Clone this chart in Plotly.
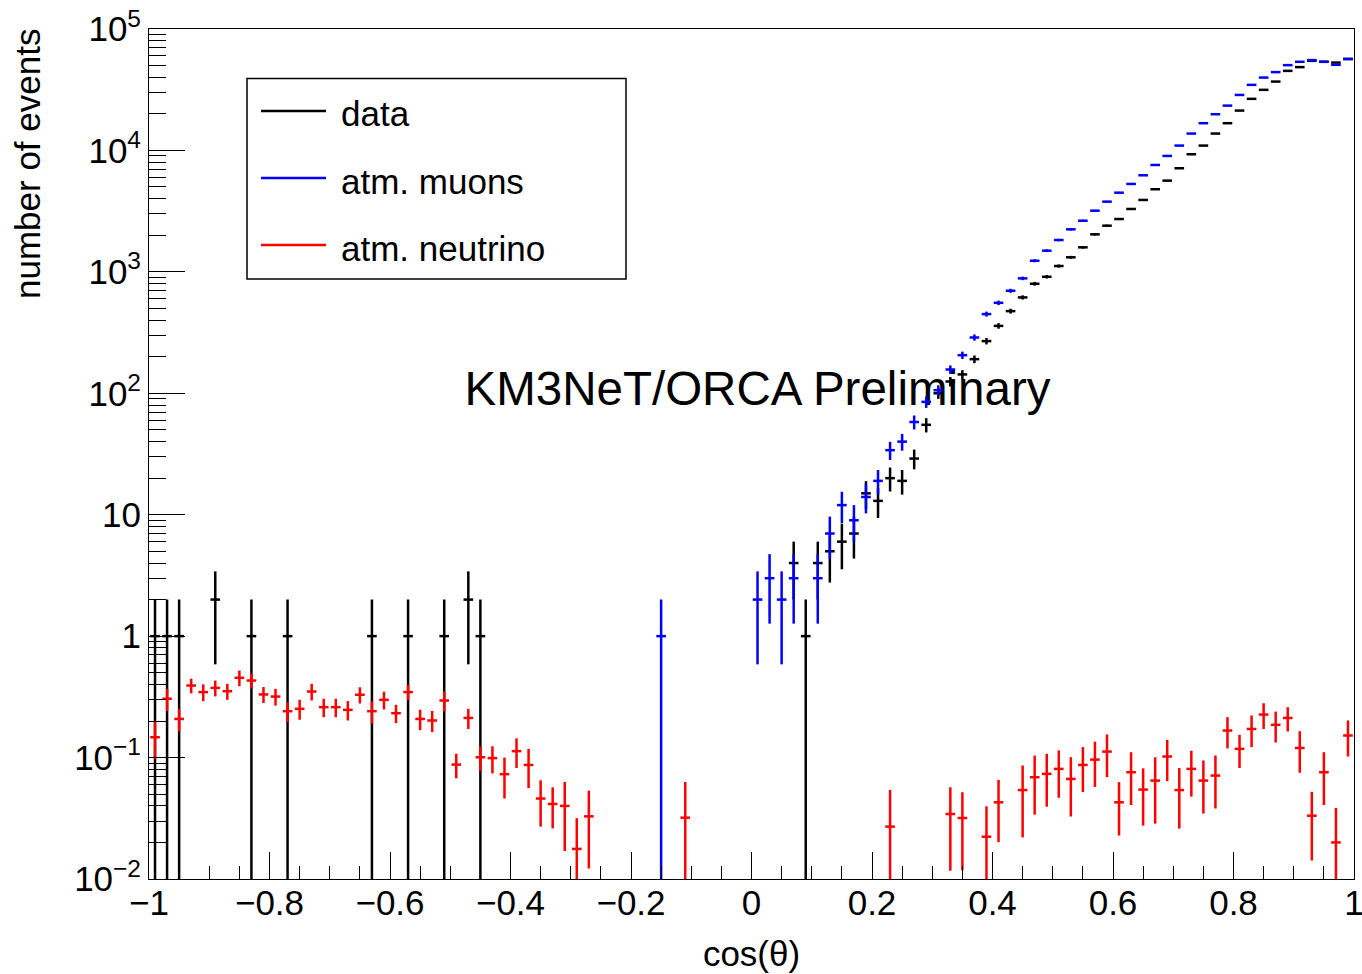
import numpy as np
import plotly.graph_objects as go

# 100 bins of cos(theta) between -1 and 1
bin_edges = np.linspace(-1.0, 1.0, 101)
bin_centers = 0.5 * (bin_edges[:-1] + bin_edges[1:])
half_bar = 0.4 * (bin_edges[1] - bin_edges[0])

# observed events per bin
data_counts = [
    1, 1, 1, 0, 0, 2, 0, 0, 1, 0,
    0, 1, 0, 0, 0, 0, 0, 0, 1, 0,
    0, 1, 0, 0, 1, 0, 2, 1, 0, 0,
    0, 0, 0, 0, 0, 0, 0, 0, 0, 0,
    0, 0, 0, 0, 0, 0, 0, 0, 0, 0,
    0, 0, 0, 4, 1, 4, 5, 6, 7, 15,
    13, 20, 19, 29, 55, 100, 125, 143, 191, 269,
    359, 475, 616, 798, 911, 1117, 1318, 1592, 2037, 2400,
    2723, 3295, 3910, 4790, 5640, 7130, 9300, 10960, 13770, 16760,
    21290, 26600, 31550, 36900, 45200, 48540, 54700, 53700, 52900, 56500,
]

# simulated atmospheric muons per bin
muon_counts = [
    0, 0, 0, 0, 0, 0, 0, 0, 0, 0,
    0, 0, 0, 0, 0, 0, 0, 0, 0, 0,
    0, 0, 0, 0, 0, 0, 0, 0, 0, 0,
    0, 0, 0, 0, 0, 0, 0, 0, 0, 0,
    0, 0, 1, 0, 0, 0, 0, 0, 0, 0,
    2, 3, 2, 3, 0, 3, 7, 12, 9, 14,
    19, 34, 40, 58, 85, 106, 157, 206, 288, 449,
    556, 699, 884, 1235, 1494, 1829, 2240, 2637, 3190, 3786,
    4488, 5296, 6240, 7590, 9010, 10960, 13770, 16760, 19870, 23390,
    28640, 34670, 39810, 44140, 50380, 53700, 55460, 53700, 50700, 56800,
]

# simulated atmospheric neutrinos per bin (weighted) and their errors
nu_counts = [
    0.147, 0.305, 0.208, 0.392, 0.346, 0.375, 0.352, 0.454, 0.431, 0.331,
    0.318, 0.241, 0.252, 0.350, 0.260, 0.260, 0.247, 0.329, 0.241, 0.299,
    0.232, 0.346, 0.208, 0.202, 0.295, 0.0875, 0.212, 0.1006, 0.099, 0.073,
    0.113, 0.087, 0.046, 0.0415, 0.040, 0.0177, 0.0328, 0, 0, 0,
    0, 0, 0, 0, 0.032, 0, 0, 0, 0, 0,
    0, 0, 0, 0, 0, 0, 0, 0, 0, 0,
    0, 0.027, 0, 0, 0, 0, 0.0343, 0.0318, 0, 0.0223,
    0.0428, 0, 0.054, 0.0689, 0.0734, 0.0807, 0.0667, 0.087, 0.0962, 0.112,
    0.0428, 0.0757, 0.0545, 0.0646, 0.102, 0.054, 0.0807, 0.0646, 0.0711, 0.167,
    0.118, 0.172, 0.226, 0.186, 0.212, 0.120, 0.0332, 0.0757, 0.020, 0.152,
]
nu_errors = [
    0.050, 0.063, 0.044, 0.054, 0.055, 0.056, 0.053, 0.067, 0.060, 0.050,
    0.050, 0.045, 0.047, 0.055, 0.045, 0.045, 0.045, 0.050, 0.050, 0.050,
    0.040, 0.050, 0.040, 0.040, 0.055, 0.020, 0.040, 0.023, 0.025, 0.027,
    0.031, 0.031, 0.019, 0.0154, 0.023, 0.014, 0.0206, 0, 0, 0,
    0, 0, 0, 0, 0.031, 0, 0, 0, 0, 0,
    0, 0, 0, 0, 0, 0, 0, 0, 0, 0,
    0, 0.027, 0, 0, 0, 0, 0.0226, 0.020, 0, 0.0174,
    0.0227, 0, 0.032, 0.035, 0.034, 0.034, 0.034, 0.035, 0.039, 0.043,
    0.020, 0.035, 0.027, 0.036, 0.038, 0.028, 0.033, 0.030, 0.033, 0.048,
    0.036, 0.050, 0.054, 0.053, 0.048, 0.045, 0.019, 0.035, 0.0185, 0.050,
]

legend_names = ["data", "atm. muons", "atm. neutrino"]
series_colors = ["#000000", "#0000ff", "#ff0000"]

x_tick_vals = [-1, -0.8, -0.6, -0.4, -0.2, 0, 0.2, 0.4, 0.6, 0.8, 1]
x_tick_text = ["\u22121", "\u22120.8", "\u22120.6", "\u22120.4", "\u22120.2",
               "0", "0.2", "0.4", "0.6", "0.8", "1"]
y_tick_vals = [1e-2, 1e-1, 1, 10, 1e2, 1e3, 1e4, 1e5]
y_tick_text = ["10<sup>\u22122</sup>", "10<sup>\u22121</sup>", "1", "10",
               "10<sup>2</sup>", "10<sup>3</sup>", "10<sup>4</sup>", "10<sup>5</sup>"]

FONT = "Liberation Sans, Arial, Helvetica, sans-serif"
W, H = 1362, 974
ML, MR, MT, MB = 149, 8, 29, 95
PW, PH = W - ML - MR, H - MT - MB


def px(x):
    return (x - ML) / PW


def py(y):
    return (H - MB - y) / PH


fig = go.Figure()

# overlay label sits beneath the histograms
fig.add_trace(go.Scatter(
    x=[0.01], y=[100], mode="text", text=["KM3NeT/ORCA Preliminary"],
    textposition="middle center", textfont=dict(family=FONT, size=47.5, color="black"),
    showlegend=False, hoverinfo="skip", cliponaxis=False,
))


def hist_trace(counts, errors, color):
    idx = [i for i, c in enumerate(counts) if c > 0]
    return go.Scatter(
        x=[bin_centers[i] for i in idx],
        y=[counts[i] for i in idx],
        mode="markers",
        marker=dict(size=0, color=color, opacity=0),
        error_y=dict(type="data", array=[errors[i] for i in idx], symmetric=True,
                     color=color, thickness=2.5, width=0),
        error_x=dict(type="constant", value=half_bar, color=color, thickness=2.5, width=0),
        showlegend=False, hoverinfo="skip",
    )


fig.add_trace(hist_trace(data_counts, np.sqrt(data_counts), series_colors[0]))
fig.add_trace(hist_trace(muon_counts, np.sqrt(muon_counts), series_colors[1]))
fig.add_trace(hist_trace(nu_counts, nu_errors, series_colors[2]))

# legend box
shapes = [dict(type="rect", xref="paper", yref="paper",
               x0=px(247), x1=px(626), y0=py(279), y1=py(78.5),
               line=dict(color="black", width=1.5), fillcolor="white", layer="above")]
annotations = []
for k, (name, color) in enumerate(zip(legend_names, series_colors)):
    yl = 111 + 67 * k
    shapes.append(dict(type="line", xref="paper", yref="paper",
                       x0=px(261), x1=px(326), y0=py(yl), y1=py(yl),
                       line=dict(color=color, width=2.5), layer="above"))
    annotations.append(dict(x=px(339), y=py(yl + 3), xref="paper", yref="paper",
                            text=name, showarrow=False, xanchor="left", yanchor="middle",
                            font=dict(family=FONT, size=35, color="black")))

# y axis title, aligned to the top of the axis
annotations.append(dict(x=px(28), y=py(27), xref="paper", yref="paper",
                        text="number of events", textangle=-90, showarrow=False,
                        xanchor="center", yanchor="top",
                        font=dict(family=FONT, size=35, color="black")))

fig.update_layout(
    width=W, height=H,
    margin=dict(l=ML, r=MR, t=MT, b=MB, pad=0, autoexpand=False),
    paper_bgcolor="white", plot_bgcolor="white",
    font=dict(family=FONT, color="black"),
    shapes=shapes, annotations=annotations,
    showlegend=False,
)

fig.update_xaxes(
    range=[-1, 1], tickmode="array", tickvals=x_tick_vals, ticktext=x_tick_text,
    ticks="inside", ticklen=27, tickwidth=1, tickcolor="black",
    minor=dict(ticks="inside", ticklen=13, dtick=0.05, tick0=0, tickcolor="black", tickwidth=1, showgrid=False),
    showline=True, linecolor="black", linewidth=1, mirror=True,
    showgrid=False, zeroline=False, automargin=False,
    tickfont=dict(family=FONT, size=35, color="black"),
    ticklabelstandoff=-7, ticklabeloverflow="allow",
    title=dict(text="cos(\u03b8)", font=dict(family=FONT, size=35, color="black"), standoff=20),
)
fig.update_yaxes(
    type="log", range=[-2, 5], tickmode="array", tickvals=y_tick_vals, ticktext=y_tick_text,
    ticks="inside", ticklen=36, tickwidth=1, tickcolor="black",
    minor=dict(ticks="inside", ticklen=17, dtick="D1", tickcolor="black", tickwidth=1, showgrid=False),
    showline=True, linecolor="black", linewidth=1, mirror=True,
    showgrid=False, zeroline=False, automargin=False,
    tickfont=dict(family=FONT, size=35, color="black"),
    ticklabelstandoff=0,
)

fig.write_html("out.html")
